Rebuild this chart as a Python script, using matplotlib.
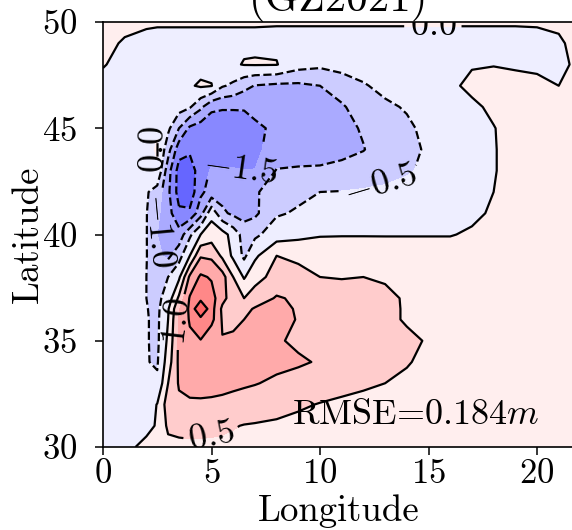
import numpy as np
import matplotlib
matplotlib.use("Agg")
import matplotlib.pyplot as plt
from matplotlib.colors import Normalize

plt.rcParams["font.family"] = "cmr10"
plt.rcParams["mathtext.fontset"] = "cm"
plt.rcParams["axes.formatter.use_mathtext"] = True
plt.rcParams["axes.unicode_minus"] = True

# grid (degrees)
lon = [0, 1, 2, 2.5, 3, 3.5, 4, 4.5, 5, 5.5, 6, 6.5, 7, 8, 9, 10, 11,
       12, 13, 14, 15, 16, 17, 18, 19, 20, 21, 22]
lat = [30, 31, 32, 33, 34, 35, 36, 36.5, 37, 38, 39, 40, 41, 42, 43, 44,
       45, 46, 47, 48, 49, 50]

# sea surface height anomaly (m), one row per latitude
ssh_30 = [-0.2, -0.15, 0.15, 0.3, 0.35, 0.38, 0.4, 0.4, 0.4, 0.4, 0.38, 0.36, 0.35, 0.33, 0.32, 0.3, 0.3, 0.3, 0.3, 0.3, 0.3, 0.3, 0.3, 0.3, 0.3, 0.3, 0.3, 0.3]
ssh_31 = [-0.2, -0.2, -0.15, 0.05, 0.6, 0.65, 0.66, 0.65, 0.62, 0.58, 0.53, 0.48, 0.46, 0.42, 0.38, 0.34, 0.32, 0.3, 0.3, 0.3, 0.3, 0.3, 0.3, 0.3, 0.3, 0.3, 0.3, 0.3]
ssh_32 = [-0.2, -0.22, -0.25, 0.02, 0.75, 0.9, 0.93, 0.93, 0.92, 0.9, 0.87, 0.83, 0.78, 0.68, 0.56, 0.48, 0.42, 0.37, 0.33, 0.3, 0.3, 0.3, 0.3, 0.3, 0.3, 0.3, 0.3, 0.3]
ssh_33 = [-0.2, -0.25, -0.35, -0.42, 0.5, 1.05, 1.15, 1.17, 1.15, 1.12, 1.08, 1.05, 1.02, 0.93, 0.82, 0.72, 0.64, 0.57, 0.5, 0.42, 0.36, 0.32, 0.3, 0.3, 0.3, 0.3, 0.3, 0.3]
ssh_34 = [-0.2, -0.3, -0.48, -0.55, 0.25, 1.1, 1.3, 1.32, 1.3, 1.25, 1.2, 1.16, 1.13, 1.1, 1.06, 0.96, 0.85, 0.75, 0.65, 0.53, 0.4, 0.32, 0.3, 0.3, 0.3, 0.3, 0.3, 0.3]
ssh_35 = [-0.2, -0.35, -0.47, -0.6, 0.1, 1.1, 1.4, 1.48, 1.1, 1.02, 1.08, 1.1, 1.1, 1.05, 0.92, 0.85, 0.78, 0.72, 0.66, 0.6, 0.46, 0.35, 0.3, 0.3, 0.3, 0.3, 0.3, 0.3]
ssh_36 = [-0.2, -0.35, -0.47, -0.6, 0.0, 1.05, 1.55, 1.85, 1.65, 0.95, 0.9, 1.0, 1.1, 1.12, 0.98, 0.85, 0.78, 0.72, 0.62, 0.45, 0.36, 0.32, 0.3, 0.3, 0.3, 0.3, 0.3, 0.3]
ssh_36h = [-0.2, -0.37, -0.48, -0.62, -0.05, 0.95, 1.6, 2.5, 1.7, 0.9, 0.75, 0.85, 1.05, 1.15, 0.95, 0.85, 0.78, 0.72, 0.62, 0.45, 0.36, 0.32, 0.3, 0.3, 0.3, 0.3, 0.3, 0.3]
ssh_37 = [-0.2, -0.38, -0.5, -0.62, -0.3, 0.6, 1.55, 1.85, 1.7, 1.15, 0.75, 0.5, 0.7, 1.05, 0.92, 0.82, 0.76, 0.7, 0.6, 0.45, 0.35, 0.32, 0.3, 0.3, 0.3, 0.3, 0.3, 0.3]
ssh_38 = [-0.2, -0.38, -0.5, -0.6, -0.5, -0.1, 1.1, 1.58, 1.45, 1.2, 0.5, -0.05, 0.35, 0.65, 0.58, 0.5, 0.47, 0.5, 0.45, 0.35, 0.3, 0.3, 0.28, 0.28, 0.28, 0.28, 0.28, 0.28]
ssh_39 = [-0.2, -0.35, -0.48, -0.9, -1.1, -0.7, 0.0, 0.95, 0.9, 0.4, -0.1, -0.6, -0.1, 0.5, 0.45, 0.25, 0.22, 0.22, 0.2, 0.2, 0.2, 0.2, 0.2, 0.2, 0.2, 0.2, 0.2, 0.2]
ssh_40 = [-0.2, -0.3, -0.48, -1.0, -1.2, -1.3, -0.6, 0.0, 0.25, 0.2, -0.2, -0.7, -0.6, -0.25, -0.15, -0.03, -0.02, -0.02, -0.02, -0.02, -0.02, -0.02, 0.05, 0.15, 0.2, 0.2, 0.2, 0.2]
ssh_41 = [-0.2, -0.3, -0.48, -0.9, -1.3, -1.9, -1.9, -1.2, -0.15, -0.9, -1.1, -1.2, -1.1, -0.55, -0.45, -0.35, -0.3, -0.3, -0.3, -0.25, -0.2, -0.15, -0.08, 0.05, 0.15, 0.2, 0.2, 0.2]
ssh_42 = [-0.2, -0.3, -0.45, -0.7, -1.4, -2.2, -2.3, -1.6, -1.3, -1.2, -1.2, -1.2, -1.05, -0.8, -0.6, -0.5, -0.48, -0.45, -0.42, -0.35, -0.3, -0.2, -0.1, 0.0, 0.15, 0.2, 0.2, 0.2]
ssh_43 = [-0.2, -0.25, -0.3, -0.05, -1.3, -2.2, -2.3, -1.7, -1.45, -1.48, -1.48, -1.49, -1.49, -0.97, -0.95, -0.95, -0.9, -0.75, -0.65, -0.55, -0.4, -0.25, -0.12, -0.02, 0.12, 0.2, 0.2, 0.2]
ssh_44 = [-0.2, -0.2, -0.15, 0.05, -0.8, -1.8, -1.9, -1.75, -1.7, -1.65, -1.62, -1.7, -1.6, -1.3, -1.2, -1.15, -1.1, -1.02, -0.75, -0.6, -0.45, -0.25, -0.1, -0.02, 0.12, 0.2, 0.2, 0.2]
ssh_45 = [-0.2, -0.2, -0.18, -0.05, -0.4, -1.0, -1.6, -1.75, -1.8, -1.8, -1.8, -1.75, -1.6, -1.4, -1.3, -1.25, -1.15, -0.95, -0.7, -0.6, -0.35, -0.2, -0.08, -0.01, 0.1, 0.15, 0.15, 0.2]
ssh_46 = [-0.15, -0.15, -0.15, -0.18, -0.2, -0.3, -0.45, -0.9, -1.4, -1.45, -1.45, -1.45, -1.35, -1.2, -1.2, -1.15, -1.05, -0.8, -0.6, -0.45, -0.25, -0.15, -0.05, 0.05, 0.1, 0.12, 0.12, 0.15]
ssh_47 = [-0.1, -0.1, -0.1, -0.1, -0.1, -0.1, -0.05, 0.06, 0.02, -0.45, -0.6, -0.85, -1.02, -1.1, -1.1, -1.0, -0.8, -0.55, -0.35, -0.2, -0.12, -0.05, 0.06, 0.1, 0.08, 0.05, 0.0, 0.1]
ssh_48 = [0.02, -0.1, -0.1, -0.1, -0.1, -0.12, -0.12, -0.15, -0.15, -0.2, -0.05, 0.02, 0.03, 0.02, -0.3, -0.4, -0.3, -0.25, -0.2, -0.15, -0.15, -0.1, -0.02, -0.01, -0.03, -0.04, -0.1, 0.1]
ssh_49 = [0.05, -0.02, -0.06, -0.06, -0.06, -0.06, -0.06, -0.06, -0.06, -0.06, -0.06, -0.06, -0.06, -0.08, -0.08, -0.08, -0.08, -0.08, -0.08, -0.08, -0.08, -0.08, -0.08, -0.08, -0.08, -0.06, -0.04, 0.1]
ssh_50 = [0.1, 0.05, 0.03, 0.02, 0.02, 0.02, 0.02, 0.02, 0.02, 0.02, 0.02, 0.02, 0.02, 0.02, 0.02, 0.02, 0.02, 0.02, 0.02, 0.02, 0.02, 0.02, 0.02, 0.02, 0.02, 0.02, 0.05, 0.1]

ssh = np.array([ssh_30, ssh_31, ssh_32, ssh_33, ssh_34, ssh_35, ssh_36, ssh_36h,
                ssh_37, ssh_38, ssh_39, ssh_40, ssh_41, ssh_42, ssh_43, ssh_44,
                ssh_45, ssh_46, ssh_47, ssh_48, ssh_49, ssh_50])

fill_levels = np.arange(-3.5, 3.51, 0.5)
line_levels = np.arange(-2.0, 2.01, 0.5)
label_spots = [(15.2, 49.8), (6.3, 43.05), (12.8, 42.3), (5.0, 30.5),
               (3.4, 35.9), (2.7, 40.2), (2.45, 44.0)]
rmse = 0.184

fig = plt.figure(figsize=(5.72, 5.30), dpi=100)
ax = fig.add_axes([103 / 572, 83 / 530, 472 / 572, 425 / 530])

ax.contourf(lon, lat, ssh, levels=fill_levels, cmap="bwr",
            norm=Normalize(-3.75, 3.75))
cs = ax.contour(lon, lat, ssh, levels=line_levels, colors="k",
                linewidths=1.6)
labels = ax.clabel(cs, fmt=lambda v: f"${v:.1f}$", fontsize=26, inline=True,
                   manual=label_spots)
for t in labels:
    t.set_clip_box(ax.bbox)
    t.set_clip_on(True)
labels[1].set_rotation(-8)

ax.text(8.7, 31.1, f"RMSE={rmse}$m$", fontsize=26, va="baseline")

ax.set_xlim(0, 21.75)
ax.set_ylim(30, 50)
ax.set_xticks([0, 5, 10, 15, 20])
ax.set_yticks([30, 35, 40, 45, 50])
ax.tick_params(labelsize=25, length=5.5, width=1.1)
ax.tick_params(axis="y", pad=13)
ax.tick_params(axis="x", pad=3)
for s in ax.spines.values():
    s.set_linewidth(1.2)
ax.set_xlabel("Longitude", fontsize=26.5, labelpad=2.5)
ax.set_ylabel("Latitude", fontsize=26.5, labelpad=-2)
ax.set_title("(GZ2021)", fontsize=31, pad=7.5)

fig.savefig("out.png", dpi=100)
